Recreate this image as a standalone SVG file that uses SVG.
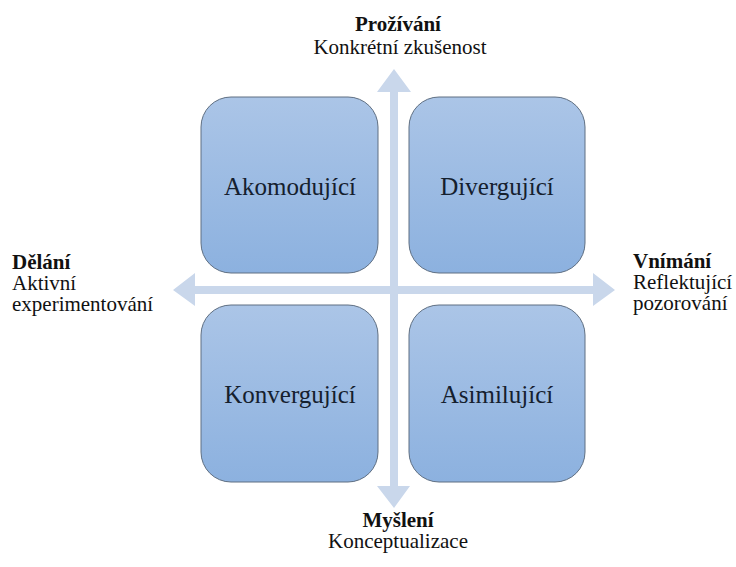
<svg xmlns="http://www.w3.org/2000/svg" width="736" height="567" viewBox="0 0 736 567">
<defs>
<linearGradient id="g" x1="0" y1="0" x2="0" y2="1">
<stop offset="0" stop-color="#abc5e7"/>
<stop offset="1" stop-color="#8cb1df"/>
</linearGradient>
<style>
.box{fill:url(#g);stroke:#5f6f82;stroke-width:1}
.arr{fill:#c9d7eb}
.t{fill:#111;font-size:21px}
.bt{font-size:25px;fill:#15202e;text-anchor:middle}
.b{font-weight:bold}
.m{text-anchor:middle}
</style>
</defs>
<rect width="736" height="567" fill="#fff"/>
<g id="connectors">
<path class="arr" d="M394,69 L411,92 L398,92 L398,286 L593,286 L593,273 L615,290 L593,306 L593,294 L398,294 L398,486 L410,486 L394,508 L377,486 L390,486 L390,294 L195,294 L195,306 L173,290 L195,273 L195,286 L390,286 L390,92 L377,92 Z"/>
</g>
<g font-family="Liberation Serif, Times New Roman, serif">
<g id="akomodujici">
<rect class="box" x="201" y="97" width="177" height="176" rx="30"/>
<text class="bt" x="290" y="195">Akomodující</text>
</g>
<g id="divergujici">
<rect class="box" x="409" y="97" width="176" height="176" rx="30"/>
<text class="bt" x="497" y="195">Divergující</text>
</g>
<g id="konvergujici">
<rect class="box" x="201" y="305" width="177" height="177" rx="30"/>
<text class="bt" x="290" y="403">Konvergující</text>
</g>
<g id="asimilujici">
<rect class="box" x="409" y="305" width="176" height="177" rx="30"/>
<text class="bt" x="497" y="403">Asimilující</text>
</g>
<g id="label-top">
<text class="t b m" x="398" y="31">Prožívání</text>
<text class="t m" x="400" y="54">Konkrétní zkušenost</text>
</g>
<g id="label-bottom">
<text class="t b m" x="398" y="527">Myšlení</text>
<text class="t m" x="398" y="548">Konceptualizace</text>
</g>
<g id="label-left">
<text class="t b" x="12" y="269">Dělání</text>
<text class="t" x="12" y="290">Aktivní</text>
<text class="t" x="12" y="311">experimentování</text>
</g>
<g id="label-right">
<text class="t b" x="633" y="268">Vnímání</text>
<text class="t" x="633" y="289">Reflektující</text>
<text class="t" x="633" y="310">pozorování</text>
</g>
</g>
</svg>
